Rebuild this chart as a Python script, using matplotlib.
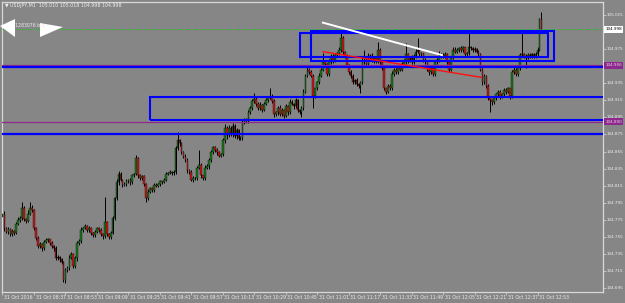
import numpy as np
import matplotlib
matplotlib.use("Agg")
import matplotlib.pyplot as plt
from matplotlib.patches import Rectangle, Polygon

# =========================
# data (prices in points above BASE, 1 pt = 0.001)
# =========================
BASE = 104.0
PT = 0.001

FIRST_OPEN = 778
close_pts = [
    782, 765, 761, 764, 758, 762, 760, 770, 775, 777,
    789, 776, 774, 782, 789, 786, 765, 754, 744, 747,
    742, 749, 751, 752, 748, 744, 742, 730, 731, 729,
    725, 704, 716, 718, 730, 735, 721, 730, 748, 750,
    763, 765, 768, 763, 765, 760, 757, 761, 765, 763,
    758, 756, 772, 758, 755, 760, 777, 800, 819, 829,
    822, 816, 817, 820, 822, 819, 827, 829, 847, 827,
    824, 826, 817, 800, 808, 812, 810, 816, 815, 817,
    820, 819, 822, 829, 830, 831, 830, 831, 859, 868,
    865, 854, 849, 845, 833, 831, 822, 824, 824, 836,
    839, 827, 824, 836, 838, 845, 854, 860, 857, 854,
    850, 852, 868, 883, 874, 883, 876, 885, 873, 880,
    871, 871, 890, 892, 891, 901, 906, 914, 917, 911,
    906, 910, 904, 911, 915, 918, 919, 914, 899, 901,
    906, 899, 904, 897, 908, 901, 913, 911, 908, 915,
    904, 901, 906, 925, 944, 951, 948, 944, 920, 929,
    936, 944, 951, 960, 958, 946, 960, 967, 962, 968,
    970, 974, 988, 972, 967, 956, 948, 944, 936, 939,
    934, 932, 936, 960, 962, 958, 965, 967, 962, 965,
    961, 974, 960, 953, 929, 925, 932, 929, 946, 951,
    948, 953, 951, 958, 960, 969, 962, 965, 960, 967,
    972, 974, 969, 970, 962, 960, 951, 948, 953, 946,
    960, 962, 967, 968, 967, 969, 960, 951, 965, 974,
    972, 974, 976, 974, 977, 969, 970, 977, 976, 974,
    975, 972, 969, 951, 936, 944, 932, 918, 915, 913,
    918, 922, 925, 920, 922, 927, 925, 929, 920, 948,
    951, 946, 953, 968, 969, 967, 965, 968, 967, 969,
    966, 969, 974, 1010, 998,
]
upper_wick = [
    15, 3, 2, 2, 1, 2, 1, 2, 3, 2,
    7, 2, 1, 4, 7, 3, 2, 1, 2, 2,
    1, 2, 3, 2, 1, 2, 1, 2, 3, 2,
    1, 2, 2, 3, 4, 2, 1, 3, 2, 2,
    3, 2, 2, 1, 3, 2, 1, 2, 2, 1,
    2, 1, 30, 2, 1, 2, 3, 2, 4, 3,
    2, 1, 2, 3, 1, 2, 2, 1, 4, 2,
    2, 1, 2, 1, 3, 2, 1, 2, 2, 1,
    2, 1, 2, 2, 1, 2, 1, 2, 3, 10,
    2, 1, 2, 3, 2, 1, 2, 2, 1, 2,
    18, 2, 1, 3, 2, 2, 3, 2, 1, 2,
    2, 1, 3, 4, 2, 3, 2, 3, 2, 2,
    1, 2, 3, 2, 2, 3, 2, 3, 7, 2,
    2, 3, 1, 2, 3, 2, 10, 3, 2, 1,
    2, 3, 2, 1, 3, 2, 3, 2, 1, 3,
    2, 1, 2, 3, 2, 3, 2, 2, 2, 1,
    2, 3, 2, 10, 2, 1, 3, 2, 2, 3,
    2, 3, 8, 2, 1, 2, 1, 2, 2, 1,
    2, 1, 2, 6, 12, 4, 6, 2, 3, 2,
    1, 9, 2, 1, 2, 1, 2, 2, 3, 2,
    2, 3, 1, 2, 3, 13, 2, 2, 3, 2,
    3, 14, 2, 2, 1, 2, 1, 2, 2, 1,
    2, 2, 6, 2, 2, 3, 1, 2, 2, 3,
    4, 2, 2, 3, 2, 1, 2, 17, 2, 2,
    2, 1, 2, 1, 2, 2, 1, 2, 2, 1,
    2, 1, 2, 2, 1, 3, 2, 2, 1, 2,
    3, 2, 2, 3, 25, 2, 2, 3, 2, 2,
    2, 3, 4, 1, 8,
]
lower_wick = [
    2, 3, 2, 3, 2, 2, 3, 2, 1, 2,
    2, 2, 3, 2, 1, 2, 2, 3, 2, 2,
    3, 2, 1, 2, 2, 2, 3, 2, 2, 3,
    2, 2, 3, 2, 2, 1, 2, 2, 3, 2,
    2, 2, 1, 2, 2, 3, 2, 2, 1, 2,
    2, 3, 2, 2, 3, 2, 2, 2, 2, 3,
    2, 2, 1, 2, 2, 3, 2, 2, 2, 3,
    2, 2, 2, 4, 2, 2, 3, 2, 1, 2,
    2, 2, 1, 2, 2, 1, 2, 2, 2, 2,
    3, 2, 2, 2, 3, 2, 2, 3, 2, 2,
    2, 3, 2, 2, 2, 3, 2, 2, 2, 3,
    2, 2, 2, 3, 4, 2, 3, 4, 2, 3,
    2, 2, 2, 3, 2, 2, 2, 2, 2, 3,
    2, 2, 3, 2, 2, 2, 2, 2, 3, 2,
    3, 2, 2, 3, 2, 3, 2, 2, 3, 2,
    3, 2, 6, 2, 2, 2, 2, 2, 14, 2,
    2, 2, 2, 2, 3, 2, 2, 2, 3, 2,
    2, 2, 2, 3, 2, 2, 2, 3, 2, 2,
    2, 3, 8, 2, 2, 2, 2, 2, 2, 3,
    2, 2, 2, 2, 2, 3, 2, 2, 2, 2,
    2, 2, 2, 2, 2, 2, 3, 2, 2, 2,
    2, 2, 2, 2, 2, 2, 2, 3, 2, 3,
    2, 2, 2, 2, 2, 2, 2, 3, 2, 2,
    2, 2, 2, 2, 2, 2, 2, 2, 2, 2,
    2, 2, 2, 2, 3, 2, 3, 3, 14, 3,
    2, 3, 2, 3, 2, 2, 3, 2, 3, 2,
    2, 2, 2, 3, 2, 2, 12, 2, 2, 2,
    2, 2, 2, 1, 0,
]

time_tick_bars = [0, 16, 32, 48, 64, 80, 96, 112, 128, 144,
                  160, 176, 192, 208, 224, 240, 256, 272]
time_labels = ["31 Oct 2016", "31 Oct 08:37", "31 Oct 08:53", "31 Oct 09:09",
               "31 Oct 09:25", "31 Oct 09:41", "31 Oct 09:57", "31 Oct 10:13",
               "31 Oct 10:29", "31 Oct 10:45", "31 Oct 11:01", "31 Oct 11:17",
               "31 Oct 11:33", "31 Oct 11:49", "31 Oct 12:05", "31 Oct 12:21",
               "31 Oct 12:37", "31 Oct 12:53"]
price_ticks = [104.695, 104.715, 104.735, 104.755, 104.775, 104.795, 104.815,
               104.835, 104.855, 104.875, 104.895, 104.915, 104.935, 104.955,
               104.975, 104.995, 105.015]

# chart objects
blue_levels = [104.954, 104.876]
purple_levels = [104.956, 104.890]
order_price = 104.999
bid_price = 104.998
zones = [  # (bar from, price low, bar to, price high)
    (151.2, 104.966, 277.3, 104.994),
    (156.8, 104.961, 280.4, 104.996),
    (75.0, 104.892, 330.0, 104.919),
]
white_trend = [(162.9, 105.006), (223.4, 104.968)]
red_trend = [(162.9, 104.972), (243.3, 104.942)]
header = "\u25bc USDJPY,M1  105.010 105.018 104.998 104.998"

BG = "#868686"
FG = "#eeeeee"
BULL = "#1d7a1d"
BEAR = "#c81a1a"
BLUE = "#0000ff"
PURPLE = "#8e2a8e"


def main():
    closes = BASE + np.array(close_pts) * PT
    opens = np.concatenate([[BASE + FIRST_OPEN * PT], closes[:-1]])
    highs = np.maximum(opens, closes) + np.array(upper_wick) * PT
    lows = np.minimum(opens, closes) - np.array(lower_wick) * PT
    x = np.arange(len(closes))

    fig = plt.figure(figsize=(6.25, 3.03), dpi=100, facecolor=BG)
    ax = fig.add_axes([2 / 625, 11 / 303, 601 / 625, 290 / 303], facecolor=BG)
    ax.set_xlim(-0.25, 305.3)
    ax.set_ylim(104.6904, 105.0302)

    # candles
    ax.vlines(x, lows, highs, colors="black", lw=0.7, zorder=2)
    up = closes >= opens
    heights = np.maximum(np.abs(closes - opens), 0.0005)
    bottoms = np.minimum(opens, closes)
    ax.bar(x[up], heights[up], bottom=bottoms[up], width=0.85,
           color=BULL, edgecolor="black", lw=0.25, zorder=3)
    ax.bar(x[~up], heights[~up], bottom=bottoms[~up], width=0.85,
           color=BEAR, edgecolor="black", lw=0.25, zorder=3)

    # objects
    for lv in purple_levels:
        ax.axhline(lv, color=PURPLE, lw=0.9, zorder=4)
    for lv in blue_levels:
        ax.axhline(lv, color=BLUE, lw=1.6, zorder=4)
    ax.axhline(order_price, color="#22c022", lw=0.6,
               dashes=(5, 2, 1, 2), zorder=4)
    for x0, y0, x1, y1 in zones:
        ax.add_patch(Rectangle((x0, y0), x1 - x0, y1 - y0, fill=False,
                               ec=BLUE, lw=1.5, zorder=5, clip_on=True))
    ax.plot(*zip(*white_trend), color="white", lw=1.4, zorder=6)
    ax.plot(*zip(*red_trend), color="#ff1010", lw=1.0, zorder=6)

    # frame / axes
    for s in ax.spines.values():
        s.set_color("#d8d8d8")
        s.set_linewidth(0.9)
    ax.yaxis.tick_right()
    ax.set_yticks(price_ticks)
    ax.set_yticklabels([])
    ax.set_xticks(time_tick_bars)
    ax.set_xticklabels([])
    ax.tick_params(direction="out", length=2, width=0.5, colors="#d8d8d8")

    ytr = ax.get_yaxis_transform()
    xtr = ax.get_xaxis_transform()
    boxed = [bid_price] + purple_levels
    for p in price_ticks:
        # labels hidden behind the coloured price boxes are not drawn
        if min(abs(p - b) for b in boxed) < 0.004:
            continue
        ax.text(1.006, p, f"{p:.3f}", transform=ytr, ha="left", va="center",
                fontsize=3.0, color=FG, clip_on=False)
    for b, lab in zip(time_tick_bars, time_labels):
        ax.text(b + 0.8, -0.012, lab, transform=xtr, ha="left", va="top",
                fontsize=3.3, color=FG, clip_on=False)

    box = dict(boxstyle="square,pad=0.3", ec="none")
    ax.text(1.004, bid_price, f"{bid_price:.3f}", transform=ytr, ha="left",
            va="center", fontsize=3.0, color="black", clip_on=False, zorder=10,
            bbox=dict(box, fc="white"))
    for lv in purple_levels:
        ax.text(1.004, lv, f"{lv:.3f}", transform=ytr, ha="left",
                va="center", fontsize=3.0, color="#e6d0e6", clip_on=False,
                zorder=10, bbox=dict(box, fc=PURPLE))

    # header and order marks (pixel positions from top-left)
    def px(xp, yp):
        return (xp / 625, 1 - yp / 303)

    fig.text(*px(5, 6), header, fontsize=3.4, color=FG, va="center")
    fig.text(*px(15, 26), "1283076 buy", fontsize=3.3, color=FG, va="center")
    fig.patches.append(Polygon([px(0, 26), px(15, 19), px(15, 37)],
                               closed=True, fc="white", ec="none",
                               transform=fig.transFigure))
    fig.patches.append(Polygon([px(40, 23), px(40, 37), px(63, 27)],
                               closed=True, fc="white", ec="none",
                               transform=fig.transFigure))

    fig.savefig("out.png", dpi=100, facecolor=BG)
    plt.close(fig)


if __name__ == "__main__":
    main()
